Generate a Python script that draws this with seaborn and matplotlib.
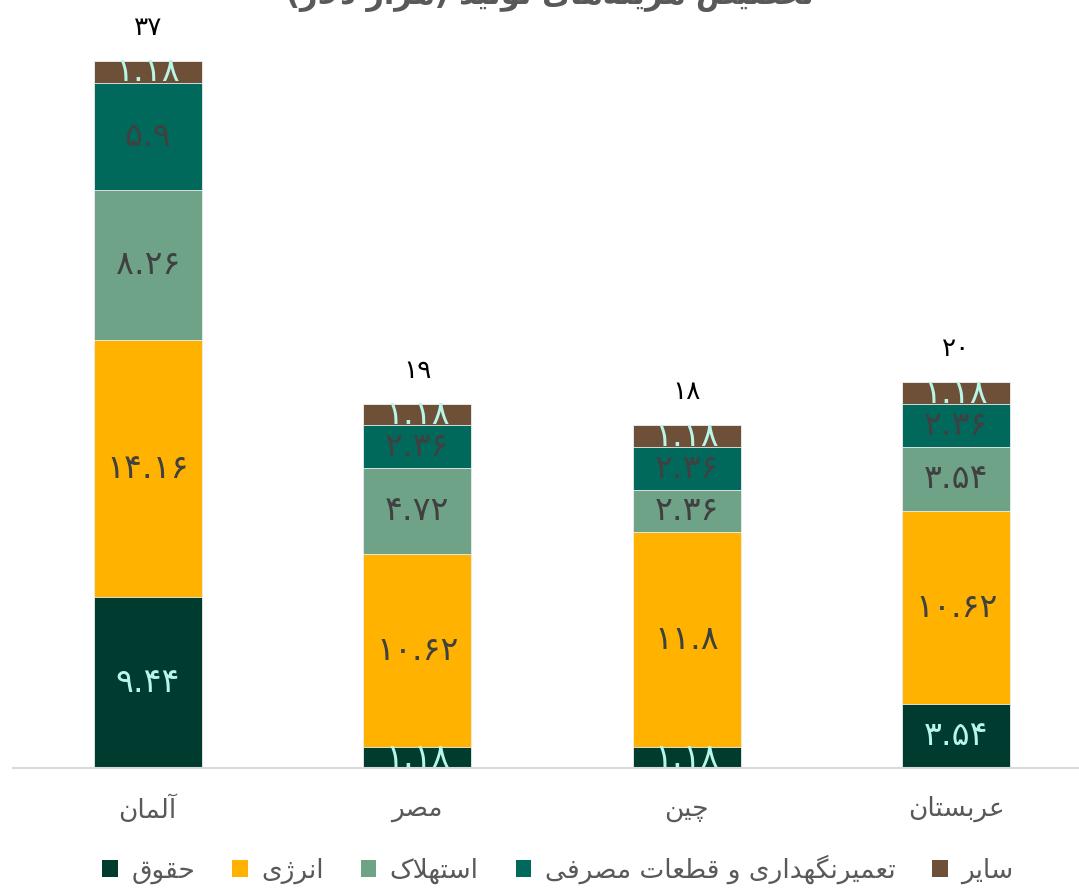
import numpy as np
import pandas as pd
import matplotlib
matplotlib.use('Agg')
import matplotlib.pyplot as plt
from matplotlib.patches import Patch
import seaborn as sns

# chart data
countries = ['آلمان', 'مصر', 'چین', 'عربستان']
series = ['حقوق', 'انرژی', 'استهلاک', 'تعمیرنگهداری و قطعات مصرفی', 'سایر']
salary = [9.44, 1.18, 1.18, 3.54]
energy = [14.16, 10.62, 11.8, 10.62]
depreciation = [8.26, 4.72, 2.36, 3.54]
maintenance = [5.9, 2.36, 2.36, 2.36]
other = [1.18, 1.18, 1.18, 1.18]
totals = [37, 19, 18, 20]
title = 'تخصیص هزینه‌های تولید (هزار دلار)'

colors = ['#003b30', '#ffb300', '#6fa388', '#00695c', '#6d5037']
label_colors = ['#b9f6ea', '#404040', '#404040', '#404040', '#b9f6ea']

# matplotlib has no arabic shaping, so do a tiny one by hand
FORMS = {
    'ا': ('\uFE8D', '\uFE8E', None, None), 'آ': ('\uFE81', '\uFE82', None, None),
    'د': ('\uFEA9', '\uFEAA', None, None), 'ر': ('\uFEAD', '\uFEAE', None, None),
    'ز': ('\uFEAF', '\uFEB0', None, None), 'ژ': ('\uFB8A', '\uFB8B', None, None),
    'و': ('\uFEED', '\uFEEE', None, None),
    'ب': ('\uFE8F', '\uFE90', '\uFE91', '\uFE92'), 'ت': ('\uFE95', '\uFE96', '\uFE97', '\uFE98'),
    'ح': ('\uFEA1', '\uFEA2', '\uFEA3', '\uFEA4'), 'خ': ('\uFEA5', '\uFEA6', '\uFEA7', '\uFEA8'),
    'س': ('\uFEB1', '\uFEB2', '\uFEB3', '\uFEB4'), 'ص': ('\uFEB9', '\uFEBA', '\uFEBB', '\uFEBC'),
    'ط': ('\uFEC1', '\uFEC2', '\uFEC3', '\uFEC4'), 'ع': ('\uFEC9', '\uFECA', '\uFECB', '\uFECC'),
    'ف': ('\uFED1', '\uFED2', '\uFED3', '\uFED4'), 'ق': ('\uFED5', '\uFED6', '\uFED7', '\uFED8'),
    'ک': ('\uFB8E', '\uFB8F', '\uFB90', '\uFB91'), 'گ': ('\uFB92', '\uFB93', '\uFB94', '\uFB95'),
    'ل': ('\uFEDD', '\uFEDE', '\uFEDF', '\uFEE0'), 'م': ('\uFEE1', '\uFEE2', '\uFEE3', '\uFEE4'),
    'ن': ('\uFEE5', '\uFEE6', '\uFEE7', '\uFEE8'), 'ه': ('\uFEE9', '\uFEEA', '\uFEEB', '\uFEEC'),
    'ی': ('\uFBFC', '\uFBFD', '\uFBFE', '\uFBFF'), 'چ': ('\uFB7A', '\uFB7B', '\uFB7C', '\uFB7D'),
}
LAM_ALEF = {'ا': ('\uFEFB', '\uFEFC'), 'آ': ('\uFEF5', '\uFEF6')}


def fa(text):
    out = []
    i, n = 0, len(text)
    while i < n:
        c = text[i]
        if c not in FORMS:
            if c != '\u200c':
                out.append(c)
            i += 1
            continue
        prev = text[i - 1] if i > 0 else None
        jp = prev in FORMS and FORMS[prev][2] is not None
        nxt = text[i + 1] if i + 1 < n else None
        if c == 'ل' and nxt in LAM_ALEF:
            out.append(LAM_ALEF[nxt][1 if jp else 0])
            i += 2
            continue
        jn = FORMS[c][2] is not None and nxt in FORMS
        iso, fin, ini, med = FORMS[c]
        if jp and jn:
            out.append(med)
        elif jp:
            out.append(fin)
        elif jn:
            out.append(ini)
        else:
            out.append(iso)
        i += 1
    vis = ''.join(reversed(out))
    return vis.translate(str.maketrans('()', ')('))


fa_digits = str.maketrans('0123456789', '۰۱۲۳۴۵۶۷۸۹')


def fa_num(v):
    return f'{v:g}'.translate(fa_digits)


sns.set_theme(style='white')
plt.rcParams['font.family'] = ['DejaVu Sans']

df = pd.DataFrame({'country': countries})
for s, vals in zip(series, [salary, energy, depreciation, maintenance, other]):
    df[s] = vals
cum = df[series].cumsum(axis=1)
cum['country'] = countries

fig = plt.figure(figsize=(10.79, 8.88), dpi=100)
ax = fig.add_axes([13 / 1079, 120 / 888, 1078 / 1079, 726 / 888])

# layered bars: tallest cumulative first
for s, c in reversed(list(zip(series, colors))):
    sns.barplot(data=cum, x='country', y=s, order=countries, color=c, saturation=1,
                width=0.4, edgecolor='#f0f0f0', linewidth=0.6, errorbar=None, ax=ax)

for j, (s, lc) in enumerate(zip(series, label_colors)):
    for i in range(len(countries)):
        v = df[s].iloc[i]
        mid = cum[s].iloc[i] - v / 2
        ax.text(i, mid, fa_num(v), ha='center', va='center', fontsize=24, color=lc)

for i, t in enumerate(totals):
    ax.annotate(fa_num(t), (i, cum[series[-1]].iloc[i]), xytext=(0, 24),
                textcoords='offset points', ha='center', va='center',
                fontsize=19, color='black')

ax.set_xlim(-0.5, 3.5)
ax.set_ylim(0, 40)
ax.set_xlabel('')
ax.set_ylabel('')
ax.set_yticks([])
ax.set_xticks(range(len(countries)))
ax.set_xticklabels([fa(c) for c in countries], fontsize=19, color='#595959')
ax.tick_params(axis='x', length=0, pad=20)
for sp in ['top', 'left', 'right']:
    ax.spines[sp].set_visible(False)
ax.spines['bottom'].set_color('#d9d9d9')
ax.spines['bottom'].set_linewidth(1.5)

handles = [Patch(facecolor=c, edgecolor='none') for c in colors]
fig.legend(handles, [fa(s) for s in series], loc='center', bbox_to_anchor=(0.517, 19 / 888),
           ncol=5, frameon=False, fontsize=19, labelcolor='#595959',
           handlelength=0.6, handleheight=0.6, handletextpad=0.5, columnspacing=1.4)

fig.text(0.51, 1 - 4 / 888, fa(title), ha='center', va='baseline', fontsize=22,
         fontweight='bold', color='#595959')

fig.savefig('out.png', dpi=100)
